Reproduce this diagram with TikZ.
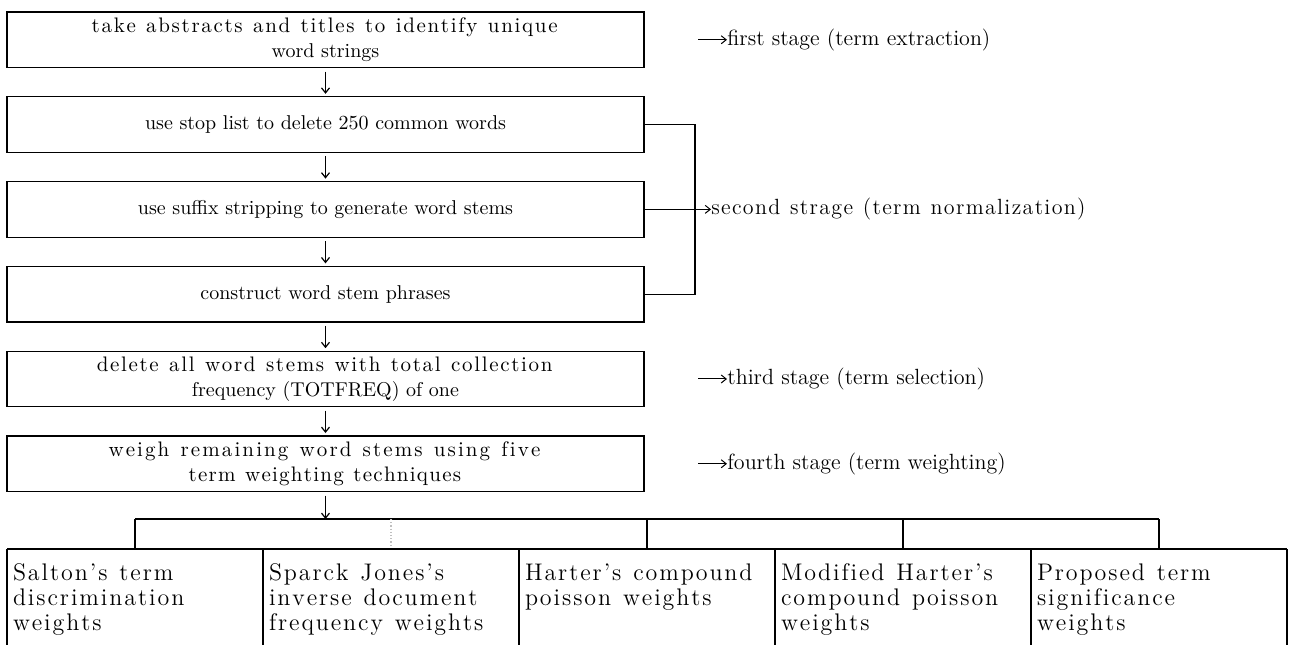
\documentclass[tikz,border=0pt]{standalone}
\usepackage{fontspec}
\usepackage{tikz}
\usetikzlibrary{arrows.meta,positioning}

% letter-spaced text, one line at a time
\ExplSyntaxOn
\NewDocumentCommand{\spacedtext}{O{0.08em} m}
  { \str_map_inline:nn {#2} { ##1 \kern \dim_eval:n {#1} \scan_stop: } }
\ExplSyntaxOff
\NewDocumentCommand{\wideline}{O{0.08em} m}{{\fontsize{10.5}{12.5}\selectfont\spacedtext[#1]{#2}}}

\begin{document}
\begin{tikzpicture}[
    node distance=14.65pt,
    stagebox/.style={rectangle, draw, line width=0.6pt, minimum width=318.5pt, minimum height=27.75pt,
                 inner sep=0pt, outer sep=0pt, align=center, font=\fontsize{10}{12.5}\selectfont},
    stagelabel/.style={anchor=west, inner xsep=0pt, font=\fontsize{11}{12.5}\selectfont},
    cell/.style={anchor=north west, minimum width=128pt, text width=122pt, inner xsep=3pt, outer sep=0pt,
                 inner ysep=7.5pt, align=left, font=\fontsize{12}{12.5}\selectfont},
    arrow/.style={-{Straight Barb[length=2.5pt,width=4pt]}, line width=0.6pt, shorten <=2pt, shorten >=1.5pt},
    stagearrow/.style={-{Straight Barb[length=2.5pt,width=4pt]}, line width=0.5pt},
    rule/.style={line width=0.6pt}
  ]
  \useasboundingbox (0,0) rectangle (644.5pt,-322.5pt);

  % Processing stages
  \node[stagebox, anchor=north west] (box1) at (3.5pt,-6pt) {\wideline{take abstracts and titles to identify unique}\\ word strings};
  \node[stagebox, below=of box1] (box2) {use stop list to delete 250 common words};
  \node[stagebox, below=of box2] (box3) {use suffix stripping to generate word stems};
  \node[stagebox, below=of box3] (box4) {construct word stem phrases};
  \node[stagebox, below=of box4] (box5) {\wideline{delete all word stems with total collection}\\ frequency (TOTFREQ) of one};
  \node[stagebox, below=of box5] (box6) {\wideline[0.1em]{weigh remaining word stems using five}\\ \wideline[0.06em]{term weighting techniques}};

  \draw[arrow] (box1) -- (box2);
  \draw[arrow] (box2) -- (box3);
  \draw[arrow] (box3) -- (box4);
  \draw[arrow] (box4) -- (box5);
  \draw[arrow] (box5) -- (box6);

  % Stage labels
  \node[stagelabel, right=41.5pt of box1] (first) {first stage (term extraction)};
  \node[stagelabel, right=33.5pt of box3] (second) {\spacedtext[0.06em]{second strage (term normalization)}};
  \node[stagelabel, right=41.5pt of box5] (third) {third stage (term selection)};
  \node[stagelabel, right=41.5pt of box6] (fourth) {fourth stage (term weighting)};

  \coordinate[left=14.5pt of first.west] (firsttail);
  \coordinate[left=14.5pt of third.west] (thirdtail);
  \coordinate[left=14.5pt of fourth.west] (fourthtail);
  \draw[stagearrow] (firsttail) -- (first);
  \draw[stagearrow] (thirdtail) -- (third);
  \draw[stagearrow] (fourthtail) -- (fourth);

  % Bracket for the second stage
  \coordinate[right=25.5pt of box2.east] (brtop);
  \coordinate[right=25.5pt of box4.east] (brbot);
  \draw[rule] (box2.east) -- (brtop) -- (brbot) -- (box4.east);
  \draw[rule] (box3.east) -- (box3.east -| brtop);
  \draw[stagearrow] (box3.east -| brtop) -- (second);

  % Weighting techniques
  \coordinate[below=13.75pt of box6.south] (fork);
  \coordinate (floor) at (0,-322.5pt);
  \node[cell] (salton) at (3.5pt,-274.5pt)
    {\spacedtext{Salton's term}\\ \spacedtext{discrimination}\\ \spacedtext{weights}};
  \node[cell] (jones) at (salton.north east)
    {\spacedtext{Sparck Jones's}\\ \spacedtext{inverse document}\\ \spacedtext{frequency weights}};
  \node[cell] (harter) at (jones.north east)
    {\spacedtext{Harter's compound}\\ \spacedtext{poisson weights}};
  \node[cell] (modified) at (harter.north east)
    {\spacedtext{Modified Harter's}\\ \spacedtext{compound poisson}\\ \spacedtext{weights}};
  \node[cell] (proposed) at (modified.north east)
    {\spacedtext{Proposed term}\\ \spacedtext{significance}\\ \spacedtext{weights}};

  \draw[arrow, shorten >=0pt] (box6) -- (fork);
  \draw[rule] (salton.north |- fork) -- (proposed.north |- fork);
  \foreach \c in {salton,harter,modified,proposed}
    \draw[rule] (\c.north |- fork) -- (\c.north);
  \draw[rule, black!25, densely dotted] (jones.north |- fork) -- (jones.north);

  \draw[rule] (salton.north west) -- (proposed.north east);
  \foreach \c in {salton,jones,harter,modified,proposed}
    \draw[rule] (\c.north west) -- (\c.north west |- floor);
  \draw[rule] (proposed.north east) -- (proposed.north east |- floor);
\end{tikzpicture}
\end{document}
